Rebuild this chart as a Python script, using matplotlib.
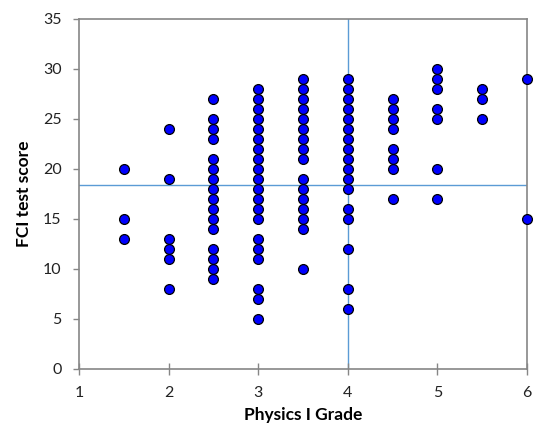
import matplotlib
matplotlib.use("Agg")
from matplotlib import pyplot as plt

plt.rcParams['font.family'] = ['Lato', 'DejaVu Sans']

# FCI scores for each Physics I grade
grades = [1.5, 2, 2.5, 3, 3.5, 4, 4.5, 5, 5.5, 6]
scores = [
    [20, 15, 13],
    [24, 19, 13, 12, 11, 8],
    [27, 25, 24, 23, 21, 20, 19, 18, 17, 16, 15, 14, 12, 11, 10, 9],
    [28, 27, 26, 25, 24, 23, 22, 21, 20, 19, 18, 17, 16, 15, 13, 12, 11, 8, 7, 5],
    [29, 28, 27, 26, 25, 24, 23, 22, 21, 19, 18, 17, 16, 15, 14, 10],
    [29, 28, 27, 26, 25, 24, 23, 22, 21, 20, 19, 18, 16, 15, 12, 8, 6],
    [27, 26, 25, 24, 22, 21, 20, 17],
    [30, 29, 28, 26, 25, 20, 17],
    [28, 27, 25],
    [29, 15],
]
grade_line = 4
score_line = 18.4

xs = [g for g, s in zip(grades, scores) for _ in s]
ys = [v for s in scores for v in s]

fig = plt.figure(figsize=(5.4, 4.26), dpi=100)
ax = fig.add_axes([79 / 540, 1 - 369 / 426, 448 / 540, 350 / 426])

ax.axvline(grade_line, color='#5B9BD5', lw=1, zorder=1)
ax.axhline(score_line, color='#5B9BD5', lw=1, zorder=1)
ax.scatter(xs, ys, s=50, c='#0000FF', edgecolors='black', linewidths=0.9,
           zorder=3, clip_on=False)

ax.set_xlim(1, 6)
ax.set_ylim(0, 35)
ax.set_xticks(range(1, 7))
ax.set_yticks(range(0, 36, 5))
for sp in ax.spines.values():
    sp.set_color('#868686')
    sp.set_linewidth(1.2)
ax.tick_params(axis='both', colors='#868686', labelcolor='#222222',
               labelsize=11.5, width=1)
ax.tick_params(axis='x', direction='inout', length=8, pad=8)
ax.tick_params(axis='y', direction='out', length=4.5, pad=8)
ax.set_xlabel('Physics I Grade', fontsize=12.5, fontweight='bold', labelpad=5)
ax.set_ylabel('FCI test score', fontsize=12.5, fontweight='bold', labelpad=8)

fig.savefig('out.png', dpi=100)
